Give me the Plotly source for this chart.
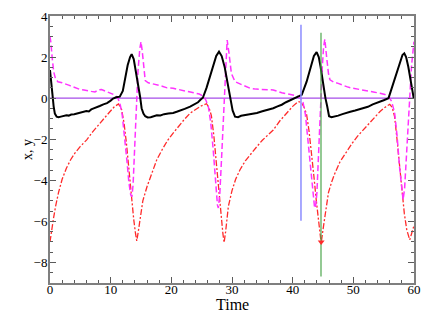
import plotly.graph_objects as go

# ---------------------------- Data ------------------------------------------------------ #

# black solid curve: x(t)
x_time = [0.0, 0.2, 0.4, 0.6, 0.8, 1.1, 1.4, 1.8, 2.2, 2.7, 3.1, 3.5, 4.0, 4.5, 5.0, 5.5, 6.0, 6.4, 6.8,
          7.2, 7.6, 8.2, 8.8, 9.4, 10.0, 10.4, 10.9, 11.5, 12.0, 12.4, 12.8, 13.2, 13.46, 13.8, 14.1, 14.55,
          14.85, 15.1, 15.4, 15.7, 16.1, 16.6, 17.2, 17.6, 18.2, 18.8, 19.5, 20.3, 21.0, 21.6, 22.2, 23.1,
          23.8, 24.4, 24.8, 25.2, 25.8, 26.4, 26.9, 27.4, 27.86, 28.3, 28.8, 29.2, 29.7, 30.1, 30.5, 31.0,
          31.5, 32.2, 33.0, 33.6, 34.1, 35.0, 35.8, 36.8, 37.5, 38.2, 38.9, 39.6, 40.4, 41.5, 42.3, 42.7,
          43.1, 43.5, 43.95, 44.3, 44.6, 45.05, 45.4, 45.7, 46.0, 46.4, 46.9, 47.5, 48.2, 48.9, 49.5, 50.3,
          51.0, 51.6, 52.4, 53.2, 54.0, 54.4, 55.0, 55.8, 56.3, 56.9, 57.3, 57.7, 58.1, 58.4, 58.7, 59.06,
          59.5, 59.95]
x_value = [1.37, 0.9, 0.2, -0.4, -0.75, -0.9, -0.93, -0.9, -0.87, -0.83, -0.85, -0.8, -0.78, -0.75, -0.7,
           -0.66, -0.63, -0.65, -0.55, -0.5, -0.46, -0.38, -0.3, -0.24, -0.12, -0.02, 0.04, 0.07, 0.35, 1.0,
           1.6, 2.0, 2.14, 1.9, 1.4, 0.56, 0.07, -0.49, -0.75, -0.88, -0.94, -0.93, -0.86, -0.83, -0.84,
           -0.78, -0.75, -0.72, -0.65, -0.6, -0.52, -0.41, -0.3, -0.2, -0.08, 0.02, 0.5, 1.13, 1.6, 2.05,
           2.26, 2.05, 1.5, 0.8, -0.09, -0.6, -0.9, -0.93, -0.86, -0.82, -0.78, -0.77, -0.72, -0.64, -0.58,
           -0.49, -0.4, -0.32, -0.2, -0.1, 0.0, 0.16, 0.8, 1.2, 1.7, 2.05, 2.24, 2.0, 1.53, 0.56, 0.0,
           -0.41, -0.88, -0.93, -0.9, -0.85, -0.78, -0.7, -0.66, -0.6, -0.55, -0.49, -0.42, -0.3, -0.22,
           -0.17, -0.1, 0.0, 0.45, 1.05, 1.4, 1.78, 2.1, 2.18, 2.0, 1.53, 0.8, 0.0]

# magenta dashed curve: y(t)
y_time = [0.0, 0.15, 0.35, 0.6, 0.9, 1.3, 2.0, 2.6, 3.2, 3.8, 4.4, 5.0, 5.6, 6.2, 6.8, 7.4, 8.0, 8.5, 9.0,
          9.6, 10.2, 10.7, 11.2, 11.6, 11.9, 12.3, 12.7, 13.0, 13.3, 13.5, 13.7, 13.9, 14.2, 14.5, 14.8,
          15.0, 15.2, 15.45, 15.7, 16.2, 17.0, 17.8, 18.5, 19.3, 20.3, 21.2, 22.2, 23.1, 24.0, 24.6, 25.3,
          25.7, 26.1, 26.5, 26.9, 27.3, 27.6, 27.75, 28.0, 28.3, 28.6, 28.9, 29.2, 29.5, 29.9, 30.5, 31.5,
          32.3, 33.0, 34.0, 35.0, 36.0, 36.8, 37.5, 38.2, 39.0, 39.6, 40.5, 41.2, 41.7, 42.1, 42.5, 42.9,
          43.3, 43.6, 43.75, 44.0, 44.3, 44.6, 44.9, 45.1, 45.3, 45.6, 45.9, 46.15, 46.8, 47.5, 48.2, 48.9,
          49.6, 50.4, 51.0, 51.6, 52.5, 53.3, 54.4, 55.2, 55.8, 56.3, 56.8, 57.2, 57.6, 57.95, 58.2, 58.45,
          58.8, 59.2, 59.6, 60.0]
y_value = [3.0, 2.7, 2.0, 1.3, 0.95, 0.8, 0.75, 0.7, 0.62, 0.55, 0.48, 0.42, 0.4, 0.38, 0.33, 0.3, 0.4,
           0.42, 0.36, 0.3, 0.24, 0.15, 0.0, -0.35, -0.8, -1.8, -3.1, -4.1, -4.7, -4.8, -4.2, -2.8, -0.6,
           1.3, 2.4, 2.75, 2.3, 1.4, 0.85, 0.75, 0.7, 0.62, 0.58, 0.5, 0.48, 0.42, 0.36, 0.32, 0.25, 0.2,
           0.09, -0.1, -0.41, -1.2, -2.5, -4.2, -5.2, -5.35, -4.6, -2.8, -1.0, 0.9, 2.83, 2.2, 1.2, 0.8,
           0.68, 0.55, 0.48, 0.44, 0.42, 0.4, 0.4, 0.33, 0.26, 0.22, 0.19, 0.12, 0.05, -0.2, -0.8, -2.0,
           -3.4, -4.7, -5.3, -5.35, -4.6, -2.5, -0.2, 1.6, 2.5, 2.87, 2.0, 1.2, 0.89, 0.78, 0.72, 0.62,
           0.56, 0.5, 0.45, 0.42, 0.4, 0.34, 0.3, 0.24, 0.18, 0.08, -0.15, -0.7, -1.8, -3.3, -4.5, -4.95,
           -4.4, -2.5, -0.2, 1.6, 2.75]

# red dash-dot curve
z_time = [0.0, 0.25, 0.55, 0.9, 1.4, 2.0, 2.7, 3.4, 4.1, 5.0, 6.05, 7.0, 8.2, 9.0, 9.9, 10.6, 11.3, 11.8,
          12.2, 12.6, 13.0, 13.4, 13.8, 14.1, 14.3, 14.5, 14.8, 15.3, 16.0, 16.8, 17.6, 18.5, 19.4, 20.3,
          21.2, 22.1, 23.1, 24.0, 24.9, 25.8, 26.2, 26.6, 27.0, 27.4, 27.8, 28.2, 28.5, 28.7, 28.95, 29.4,
          30.0, 30.6, 31.3, 32.2, 33.1, 34.1, 35.0, 35.9, 36.8, 37.9, 39.0, 40.0, 40.9, 41.4, 41.9, 42.3,
          42.7, 43.1, 43.5, 43.9, 44.3, 44.5, 44.7, 45.0, 45.4, 45.9, 46.4, 46.9, 47.8, 48.9, 49.8, 50.7,
          51.6, 52.6, 53.5, 54.4, 55.2, 56.0, 56.4, 56.8, 57.2, 57.6, 58.0, 58.4, 58.8, 59.3, 59.6, 60.0]
z_value = [-7.0, -6.4, -5.9, -5.3, -4.6, -3.95, -3.41, -3.0, -2.68, -2.35, -2.03, -1.65, -1.22, -0.95,
           -0.65, -0.42, -0.28, -0.55, -1.2, -2.2, -3.5, -4.8, -5.9, -6.6, -6.95, -6.6, -5.9, -5.0, -4.3,
           -3.6, -3.0, -2.5, -2.05, -1.7, -1.35, -1.05, -0.73, -0.55, -0.38, -0.27, -0.45, -0.85, -1.8,
           -3.1, -4.5, -5.8, -6.6, -7.03, -6.5, -5.27, -4.5, -3.95, -3.5, -3.05, -2.7, -2.36, -2.05, -1.8,
           -1.55, -1.1, -0.73, -0.4, -0.17, -0.2, -0.45, -0.8, -1.6, -2.6, -3.8, -5.0, -6.1, -6.6, -7.06,
           -6.4, -5.5, -4.6, -4.1, -3.7, -3.1, -2.6, -2.2, -1.85, -1.55, -1.2, -0.9, -0.65, -0.45, -0.3,
           -0.45, -0.9, -2.0, -3.3, -4.6, -5.6, -6.4, -6.9, -6.6, -6.2]

# arrow head at the bottom of the third red dip
arrow_t = [44.7]
arrow_z = [-7.0]

# reference lines
zero_t = [0, 60]
zero_y = [0, 0]
blue_t = [41.37, 41.37]
blue_y = [-5.97, 3.57]
green_t = [44.67, 44.67]
green_y = [-8.68, 3.19]

x_ticks = [0, 10, 20, 30, 40, 50, 60]
y_ticks = [-8, -6, -4, -2, 0, 2, 4]

# ---------------------------- Build the figure ------------------------------- #

fig = go.Figure()

fig.add_trace(go.Scatter(x=zero_t, y=zero_y, mode='lines',
                         line=dict(color='#a64ce8', width=1.3)))
fig.add_trace(go.Scatter(x=z_time, y=z_value, mode='lines',
                         line=dict(color='#ff2a2a', width=1.3, dash='6px,2px,2px,2px')))
fig.add_trace(go.Scatter(x=y_time, y=y_value, mode='lines',
                         line=dict(color='#ff33ff', width=1.5, dash='6px,3px')))
fig.add_trace(go.Scatter(x=x_time, y=x_value, mode='lines',
                         line=dict(color='black', width=2)))
fig.add_trace(go.Scatter(x=blue_t, y=blue_y, mode='lines',
                         line=dict(color='#8c8cff', width=1.5)))
fig.add_trace(go.Scatter(x=green_t, y=green_y, mode='lines',
                         line=dict(color='#4ca64c', width=1.2)))
fig.add_trace(go.Scatter(x=arrow_t, y=arrow_z, mode='markers',
                         marker=dict(symbol='triangle-down', size=6, color='#ff2a2a')))

axis_style = dict(showgrid=False, zeroline=False, showline=True, linecolor='#7f7f7f', linewidth=2,
                  mirror='allticks', ticks='inside', ticklen=6, tickwidth=1.3, tickcolor='#5a5a5a',
                  automargin=False,
                  tickfont=dict(family='Liberation Serif', size=13, color='black'))

fig.update_xaxes(range=[0, 60], tickvals=x_ticks, ticklabelstandoff=-7,
                 minor=dict(dtick=2, ticks='inside', ticklen=3, tickcolor='#5a5a5a', tickwidth=1),
                 **axis_style)
fig.update_yaxes(range=[-9, 4], tickvals=y_ticks, ticklabelstandoff=-2,
                 minor=dict(dtick=0.5, ticks='inside', ticklen=3, tickcolor='#5a5a5a', tickwidth=1),
                 **axis_style)

# axis titles placed as annotations so they sit exactly where the reference has them
fig.add_annotation(text='Time', xref='paper', yref='paper', x=0.5, y=-0.082,
                   xanchor='center', yanchor='middle', showarrow=False, borderpad=0,
                   font=dict(family='Liberation Serif', size=16, color='black'))
fig.add_annotation(text='x, y', xref='paper', yref='paper', x=-0.062, y=0.5, textangle=-90,
                   xanchor='center', yanchor='middle', showarrow=False, borderpad=0,
                   font=dict(family='Liberation Serif', size=14, color='black'))

# page body has an 8px margin, so the figure is shrunk to keep the plot box in place
fig.update_layout(width=415, height=317, showlegend=False,
                  plot_bgcolor='white', paper_bgcolor='white',
                  margin=dict(l=42, r=9, t=8, b=42))

fig.write_html("out.html")
